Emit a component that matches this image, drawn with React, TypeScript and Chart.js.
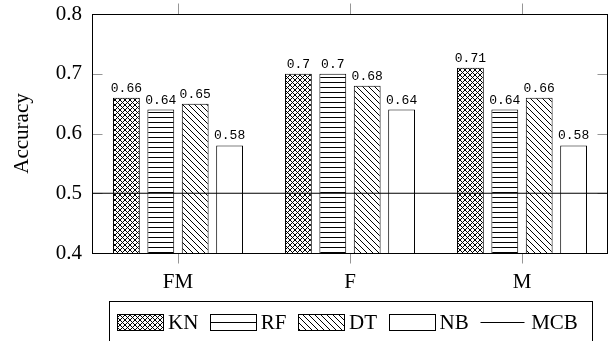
import React, { useEffect, useRef } from "react";
import { Chart, registerables } from "chart.js";

Chart.register(...registerables);

const categories = ["FM", "F", "M"];
const seriesNames = ["KN", "RF", "DT", "NB"];
const knValues = [0.66, 0.7, 0.71];
const rfValues = [0.64, 0.7, 0.64];
const dtValues = [0.65, 0.68, 0.66];
const nbValues = [0.58, 0.64, 0.58];
const mcbName = "MCB";
const mcbValues = [0.5, 0.5];
const mcbSpan = [-0.5, 2.5];
const yMin = 0.4;
const yMax = 0.8;
const yStep = 0.1;
const yTitle = "Accuracy";

const seriesValues = [knValues, rfValues, dtValues, nbValues];
const patternKinds = ["cross", "hlines", "nwlines", "none"];

const SERIF = '"Liberation Serif", "Times New Roman", serif';
const MONO = '"Liberation Mono", "Courier New", monospace';
const FONT_SIZE = 21;
const TICK_COLOR = "rgb(150,150,150)";

function makePattern(kind: string): CanvasPattern | string {
  if (kind === "none") return "#ffffff";
  const s = kind === "cross" ? 5 : kind === "hlines" ? 5 : 6;
  const c = document.createElement("canvas");
  c.width = s;
  c.height = s;
  const g = c.getContext("2d")!;
  g.fillStyle = "#ffffff";
  g.fillRect(0, 0, s, s);
  g.fillStyle = "#000000";
  if (kind === "cross") {
    for (let i = 0; i < s; i++) {
      g.fillRect(i, i, 1, 1);
      g.fillRect(s - 1 - i, i, 1, 1);
    }
  } else if (kind === "hlines") {
    g.fillRect(0, Math.floor(s / 2), s, 1);
  } else if (kind === "nwlines") {
    for (let i = 0; i < s; i++) g.fillRect(i, i, 1, 1);
  }
  return g.createPattern(c, "repeat")!;
}

const decorPlugin = {
  id: "decor",
  beforeDatasetsDraw(chart: any) {
    const ctx = chart.ctx as CanvasRenderingContext2D;
    const { left, right, top, bottom } = chart.chartArea;
    const L = Math.round(left) + 0.5;
    const R = Math.round(right) - 0.5;
    const T = Math.round(top) + 0.5;
    const B = Math.round(bottom) + 0.5;
    ctx.save();
    ctx.strokeStyle = TICK_COLOR;
    ctx.lineWidth = 1;
    const ys = chart.scales.y;
    ys.ticks.forEach((t: any) => {
      const py = Math.round(ys.getPixelForValue(t.value)) + 0.5;
      ctx.beginPath();
      ctx.moveTo(L, py);
      ctx.lineTo(L + 10, py);
      ctx.moveTo(R, py);
      ctx.lineTo(R - 10, py);
      ctx.stroke();
    });
    const xs = chart.scales.x;
    categories.forEach((_c, i) => {
      const px = Math.round(xs.getPixelForValue(i)) + 0.5;
      ctx.beginPath();
      ctx.moveTo(px, B);
      ctx.lineTo(px, B + 10);
      ctx.moveTo(px, T);
      ctx.lineTo(px, T - 11);
      ctx.stroke();
    });
    ctx.restore();
  },
  afterDatasetsDraw(chart: any) {
    const ctx = chart.ctx as CanvasRenderingContext2D;
    ctx.save();
    ctx.font = `13px ${MONO}`;
    ctx.fillStyle = "#000";
    ctx.textAlign = "center";
    ctx.textBaseline = "alphabetic";
    chart.data.datasets.forEach((ds: any, di: number) => {
      if (ds.type !== "bar") return;
      const meta = chart.getDatasetMeta(di);
      meta.data.forEach((el: any, i: number) => {
        ctx.fillText(String(seriesValues[di][i]), el.x, el.y - 6);
      });
    });
    ctx.restore();
  },
  afterDraw(chart: any) {
    const ctx = chart.ctx as CanvasRenderingContext2D;
    const { left, right, top, bottom } = chart.chartArea;
    const L = Math.round(left) + 0.5;
    const R = Math.round(right) - 0.5;
    const T = Math.round(top) + 0.5;
    const B = Math.round(bottom) + 0.5;
    ctx.save();
    // axis box
    ctx.strokeStyle = "#000";
    ctx.lineWidth = 1;
    ctx.strokeRect(L, T, R - L, B - T);

    // legend
    ctx.font = `${FONT_SIZE}px ${SERIF}`;
    const swW = 46;
    const swH = 16;
    const textGap = 5;
    const itemGap = 11.5;
    const boxW = 483;
    const cx = (left + right) / 2;
    const boxL = Math.round(cx - boxW / 2) + 0.5;
    const boxT = 301.5;
    ctx.strokeRect(boxL, boxT, boxW, 60);
    const cy = 322;
    let x = boxL + 7.5;
    const items = [
      ...seriesNames.map((n, i) => ({ name: n, kind: patternKinds[i], fill: chart.data.datasets[i].backgroundColor })),
      { name: mcbName, kind: "line", fill: "#000" },
    ];
    items.forEach((it) => {
      const sx = Math.round(x) + 0.5;
      const sy = Math.round(cy - swH / 2) + 0.5;
      if (it.kind === "line") {
        ctx.beginPath();
        ctx.moveTo(sx, Math.round(cy) + 0.5);
        ctx.lineTo(sx + swW - 2, Math.round(cy) + 0.5);
        ctx.stroke();
      } else {
        ctx.fillStyle = "#fff";
        ctx.fillRect(sx, sy, swW, swH);
        if (it.kind === "hlines") {
          ctx.beginPath();
          ctx.moveTo(sx, Math.round(cy) + 0.5);
          ctx.lineTo(sx + swW, Math.round(cy) + 0.5);
          ctx.stroke();
        } else {
          ctx.fillStyle = it.fill;
          ctx.fillRect(sx, sy, swW, swH);
        }
        ctx.strokeRect(sx, sy, swW, swH);
      }
      x += swW + textGap;
      ctx.fillStyle = "#000";
      ctx.textAlign = "left";
      ctx.textBaseline = "alphabetic";
      ctx.fillText(it.name, x, cy + 7);
      x += ctx.measureText(it.name).width + itemGap;
    });
    ctx.restore();
  },
};

export default function App() {
  const ref = useRef<HTMLCanvasElement>(null);
  useEffect(() => {
    const canvas = ref.current!;
    const fills = patternKinds.map((k) => makePattern(k));
    const tickFont = { family: SERIF, size: FONT_SIZE };
    const chart = new Chart(canvas, {
      type: "bar",
      data: {
        datasets: [
          ...seriesNames.map((name, i) => ({
            type: "bar" as const,
            label: name,
            data: seriesValues[i].map((v, ci) => ({ x: ci, y: v })) as any,
            backgroundColor: fills[i] as any,
            borderColor: "#000",
            borderWidth: 1,
            categoryPercentage: 0.8,
            barPercentage: 0.78,
            xAxisID: "x",
            yAxisID: "y",
            order: 2,
          })),
          {
            type: "line" as const,
            label: mcbName,
            data: mcbSpan.map((xv, i) => ({ x: xv, y: mcbValues[i] })) as any,
            borderColor: "#000",
            borderWidth: 1.2,
            pointRadius: 0,
            xAxisID: "x",
            yAxisID: "y",
            order: 0,
          },
        ],
      },
      options: {
        responsive: false,
        animation: false,
        devicePixelRatio: 1,
        layout: { padding: { left: 0, right: 2, top: 14, bottom: 48 } },
        plugins: {
          legend: { display: false },
          tooltip: { enabled: false },
        },
        scales: {
          x: {
            type: "linear",
            min: -0.5,
            max: categories.length - 0.5,
            offset: false,
            grid: { display: false, drawTicks: false },
            border: { display: false },
            afterBuildTicks: (s: any) => {
              s.ticks = categories.map((_c, i) => ({ value: i }));
            },
            ticks: {
              font: tickFont,
              color: "#000",
              padding: 17,
              callback: (v: any) => categories[Math.round(Number(v))] ?? "",
            },
            afterFit: (s: any) => {
              s.height = 40;
              s.paddingLeft = 0;
              s.paddingRight = 0;
            },
          },
          y: {
            min: yMin,
            max: yMax,
            grid: { display: false, drawTicks: false },
            border: { display: false },
            ticks: {
              stepSize: yStep,
              font: tickFont,
              color: "#000",
              padding: 10,
              callback: (v: any) => Number(v).toFixed(1),
            },
            title: {
              display: true,
              text: yTitle,
              font: tickFont,
              color: "#000",
              padding: { top: 10, bottom: 0 },
            },
            afterFit: (s: any) => {
              s.width = 92;
              s.paddingTop = 0;
              s.paddingBottom = 0;
            },
          },
        },
      },
      plugins: [decorPlugin],
    });
    return () => chart.destroy();
  }, []);
  return (
    <div style={{ position: "fixed", left: 0, top: 0, width: 610, height: 341, background: "#fff" }}>
      <canvas ref={ref} width={610} height={341} style={{ width: 610, height: 341, display: "block" }} />
    </div>
  );
}
